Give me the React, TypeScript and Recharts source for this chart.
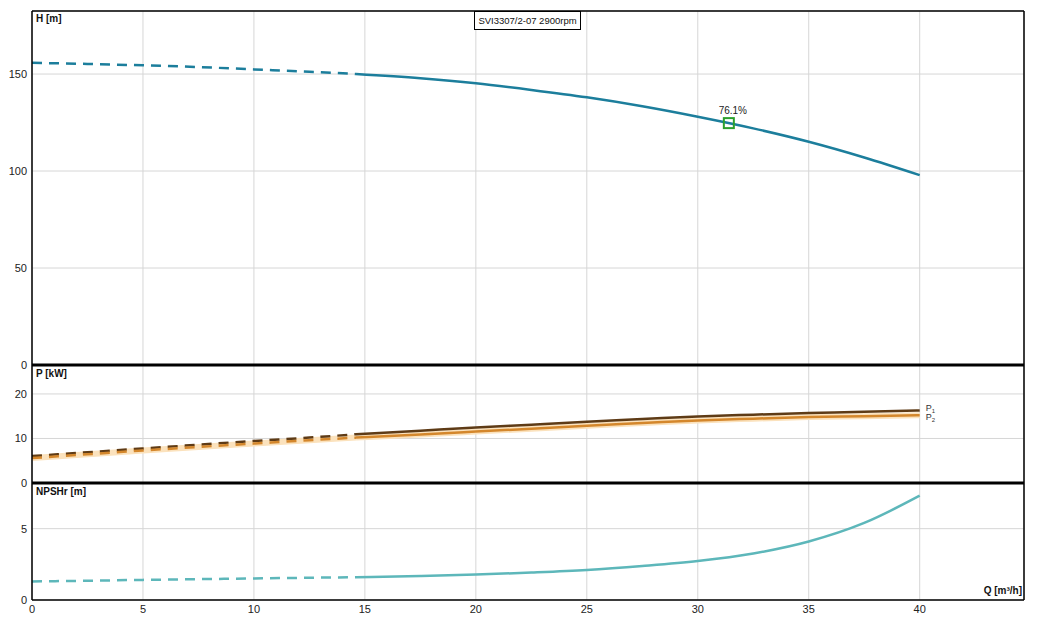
import { LineChart, Line, XAxis, YAxis, CartesianGrid, ReferenceLine, ReferenceDot } from "recharts";

// flow rate Q [m³/h]
const qValues = [0, 2.5, 5, 7.5, 10, 12.5, 14.6, 17.5, 20, 22.5, 25, 27.5, 30, 32.5, 35, 37.5, 40];
// head H [m]
const headValues = [155.8, 155.2, 154.5, 153.6, 152.4, 151.2, 150.0, 147.8, 145.2, 141.8, 138.0, 133.4, 128.0, 122.0, 115.1, 107.0, 97.9];
// power P1 / P2 [kW]
const p1Values = [6.05, 6.9, 7.75, 8.6, 9.45, 10.2, 10.95, 11.75, 12.45, 13.1, 13.75, 14.35, 14.95, 15.35, 15.7, 16.0, 16.3];
const p2Values = [5.6, 6.45, 7.3, 8.1, 8.85, 9.6, 10.2, 10.9, 11.55, 12.2, 12.85, 13.45, 14.05, 14.45, 14.8, 15.0, 15.2];
// NPSHr [m]
const npshValues = [1.3, 1.35, 1.41, 1.46, 1.51, 1.56, 1.6, 1.68, 1.78, 1.92, 2.1, 2.38, 2.73, 3.26, 4.1, 5.4, 7.31];

const dashedUntil = 14.6;
const xTicks = [0, 5, 10, 15, 20, 25, 30, 35, 40];
const xMax = 44.7;
const hTicks = [0, 50, 100, 150];
const hMax = 182.5;
const pTicks = [0, 10, 20];
const pMax = 26.5;
const npshTicks = [0, 5];
const npshMax = 8.2;

const bepQ = 31.4;
const bepH = 124.7;
const bepLabel = "76.1%";
const title = "SVI3307/2-07 2900rpm";

const split = (vals: number[]) =>
  qValues.map((q, i) => ({
    dash: q <= dashedUntil ? vals[i] : null,
    solid: q >= dashedUntil ? vals[i] : null,
  }));

const hSplit = split(headValues);
const p1Split = split(p1Values);
const p2Split = split(p2Values);
const nSplit = split(npshValues);

const data = qValues.map((q, i) => ({
  q,
  hDash: hSplit[i].dash,
  hSolid: hSplit[i].solid,
  p1Dash: p1Split[i].dash,
  p1Solid: p1Split[i].solid,
  p2Dash: p2Split[i].dash,
  p2Solid: p2Split[i].solid,
  nDash: nSplit[i].dash,
  nSolid: nSplit[i].solid,
}));

const FONT = "'Liberation Sans', Arial, sans-serif";
const W = 1039;
const GRID = "#d6d6d6";
const H_COLOR = "#1c7e9c";
const P1_COLOR = "#5e3b16";
const P2_COLOR = "#d4872c";
const HALO = "#fbe2bd";
const NPSH_COLOR = "#5db7ba";
const DASH = "10 7";

const tickStyle = { fontSize: 11, fill: "#222", fontFamily: FONT };

const axisTitle = (top: number, left: number, text: string) => (
  <div
    style={{
      position: "absolute",
      top,
      left,
      fontSize: 10,
      fontWeight: "bold",
      color: "#111",
      fontFamily: FONT,
      whiteSpace: "nowrap",
    }}
  >
    {text}
  </div>
);

function powerLabel(sub: string, dy: number) {
  return (props: any) => {
    const { x, y, index } = props;
    if (index !== qValues.length - 1 || x == null || y == null) return null;
    return (
      <text key={sub} x={x + 6} y={y + dy} fontSize={9} fill="#333" fontFamily={FONT}>
        P<tspan fontSize={6} dy={2}>{sub}</tspan>
      </text>
    );
  };
}

function BepMarker(props: any) {
  const { cx, cy } = props;
  return (
    <g>
      <rect x={cx - 5} y={cy - 5} width={10} height={10} fill="none" stroke="#2ca02c" strokeWidth={2} />
      <text x={cx + 4} y={cy - 9} textAnchor="middle" fontSize={10} fill="#222" fontFamily={FONT}>
        {bepLabel}
      </text>
    </g>
  );
}

const yAxisProps = {
  type: "number" as const,
  width: 32,
  tick: tickStyle,
  tickLine: false,
  tickSize: 3,
  interval: 0 as const,
  axisLine: { stroke: "#000", strokeWidth: 1.5 },
  allowDataOverflow: true,
};

export default function App() {
  const xAxisHidden = (
    <XAxis dataKey="q" type="number" domain={[0, xMax]} ticks={xTicks} hide allowDataOverflow />
  );
  return (
    <div style={{ position: "relative", width: W, height: 621, margin: -8, background: "#fff", fontFamily: FONT }}>
      {/* Head panel */}
      <div style={{ position: "absolute", top: 0, left: 0 }}>
        <LineChart width={W} height={378} data={data} margin={{ top: 11, right: 15, bottom: 13, left: 0 }}>
          <CartesianGrid stroke={GRID} />
          {xAxisHidden}
          <YAxis {...yAxisProps} domain={[0, hMax]} ticks={hTicks} />
          <ReferenceLine y={hMax} stroke="#000" strokeWidth={1.5} />
          <ReferenceLine x={xMax} stroke="#000" strokeWidth={1.5} />
          <Line dataKey="hDash" type="monotone" stroke={H_COLOR} strokeWidth={2.5} strokeDasharray={DASH} dot={false} isAnimationActive={false} />
          <Line dataKey="hSolid" type="monotone" stroke={H_COLOR} strokeWidth={2.5} dot={false} isAnimationActive={false} />
          <ReferenceDot x={bepQ} y={bepH} r={5} shape={<BepMarker />} />
        </LineChart>
      </div>

      {/* Power panel */}
      <div style={{ position: "absolute", top: 360, left: 0 }}>
        <LineChart width={W} height={136} data={data} margin={{ top: 5, right: 15, bottom: 13, left: 0 }}>
          <CartesianGrid stroke={GRID} />
          {xAxisHidden}
          <YAxis {...yAxisProps} domain={[0, pMax]} ticks={pTicks} />
          <ReferenceLine x={xMax} stroke="#000" strokeWidth={1.5} />
          <ReferenceLine y={pMax} stroke="#000" strokeWidth={3} />
          <Line dataKey="p2Dash" type="monotone" stroke={HALO} strokeWidth={6} dot={false} isAnimationActive={false} />
          <Line dataKey="p2Solid" type="monotone" stroke={HALO} strokeWidth={6} dot={false} isAnimationActive={false} />
          <Line dataKey="p1Dash" type="monotone" stroke={P1_COLOR} strokeWidth={2.5} strokeDasharray={DASH} dot={false} isAnimationActive={false} />
          <Line dataKey="p1Solid" type="monotone" stroke={P1_COLOR} strokeWidth={2.5} dot={false} isAnimationActive={false} label={powerLabel("1", 1)} />
          <Line dataKey="p2Dash" type="monotone" stroke={P2_COLOR} strokeWidth={2.5} strokeDasharray={DASH} dot={false} isAnimationActive={false} />
          <Line dataKey="p2Solid" type="monotone" stroke={P2_COLOR} strokeWidth={2.5} dot={false} isAnimationActive={false} label={powerLabel("2", 5)} />
        </LineChart>
      </div>

      {/* NPSH panel */}
      <div style={{ position: "absolute", top: 478, left: 0 }}>
        <LineChart width={W} height={143} data={data} margin={{ top: 5, right: 15, bottom: 0, left: 0 }}>
          <CartesianGrid stroke={GRID} />
          <XAxis
            dataKey="q"
            type="number"
            domain={[0, xMax]}
            ticks={xTicks}
            height={21}
            tick={tickStyle}
            tickLine={false}
            tickSize={3}
            interval={0}
            axisLine={{ stroke: "#000", strokeWidth: 1.5 }}
            allowDataOverflow
          />
          <YAxis {...yAxisProps} domain={[0, npshMax]} ticks={npshTicks} />
          <ReferenceLine x={xMax} stroke="#000" strokeWidth={1.5} />
          <ReferenceLine y={npshMax} stroke="#000" strokeWidth={3} />
          <Line dataKey="nDash" type="monotone" stroke={NPSH_COLOR} strokeWidth={2.5} strokeDasharray={DASH} dot={false} isAnimationActive={false} />
          <Line dataKey="nSolid" type="monotone" stroke={NPSH_COLOR} strokeWidth={2.5} dot={false} isAnimationActive={false} />
        </LineChart>
      </div>

      {axisTitle(13, 36, "H [m]")}
      {axisTitle(368, 36, "P [kW]")}
      {axisTitle(486, 36, "NPSHr [m]")}
      <div
        style={{
          position: "absolute",
          top: 585,
          right: 17,
          fontSize: 10,
          fontWeight: "bold",
          color: "#111",
          fontFamily: FONT,
        }}
      >
        Q [m³/h]
      </div>
      <div
        style={{
          position: "absolute",
          top: 11,
          left: 474,
          width: 107,
          height: 19,
          boxSizing: "border-box",
          border: "1px solid #000",
          background: "#fff",
          fontSize: 9.5,
          lineHeight: "17px",
          textAlign: "center",
          color: "#111",
          fontFamily: FONT,
          whiteSpace: "nowrap",
        }}
      >
        {title}
      </div>
    </div>
  );
}
